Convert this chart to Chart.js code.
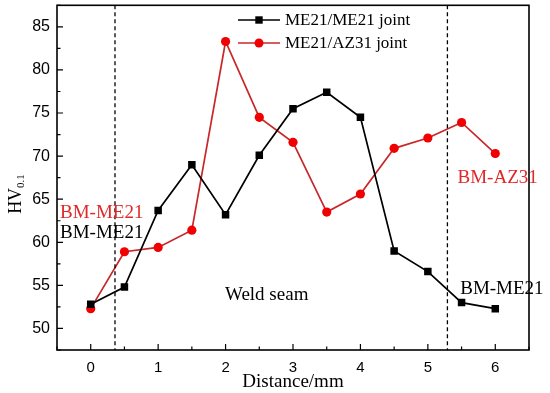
<!DOCTYPE html>
<html>
<head>
<meta charset="utf-8">
<script src="https://cdn.jsdelivr.net/npm/chart.js@4/dist/chart.umd.min.js"></script>
<style>
  html, body { margin: 0; padding: 0; background: #fff; }
  #wrap { width: 550px; height: 393px; }
</style>
</head>
<body>
<div id="wrap"><canvas id="chart_hv"></canvas></div>
<script>
// Data
distance = [0, 0.5, 1, 1.5, 2, 2.5, 3, 3.5, 4, 4.5, 5, 5.5, 6]
hv_me21_me21 = [52.8, 54.8, 63.7, 69.0, 63.2, 70.1, 75.5, 77.4, 74.5, 59.0, 56.6, 53.0, 52.3]
hv_me21_az31 = [52.3, 58.9, 59.4, 61.4, 83.3, 74.5, 71.6, 63.5, 65.6, 70.9, 72.1, 73.9, 70.3]
series_names = ["ME21/ME21 joint", "ME21/AZ31 joint"]
x_ticks = [0, 1, 2, 3, 4, 5, 6]
y_ticks = [50, 55, 60, 65, 70, 75, 80, 85]
zone_bounds = [0.36, 5.29]

var serif = '"Liberation Serif", "Times New Roman", serif'
var sans = '"Liberation Sans", Arial, sans-serif'

function points(ys) {
  return distance.map(function (x, i) { return { x: x, y: ys[i] } })
}

// Frame, inward ticks, dashed zone lines, legend and labels
var decorPlugin = {
  id: 'decor',
  afterDatasetsDraw: function (chart) {
    var ctx = chart.ctx
    var a = chart.chartArea
    var xs = chart.scales.x, ys = chart.scales.y
    ctx.save()

    // dashed zone borders
    ctx.strokeStyle = '#000'
    ctx.lineWidth = 1.3
    ctx.setLineDash([4, 3])
    zone_bounds.forEach(function (v) {
      var px = xs.getPixelForValue(v)
      ctx.beginPath(); ctx.moveTo(px, a.top); ctx.lineTo(px, a.bottom); ctx.stroke()
    })
    ctx.setLineDash([])

    // frame
    ctx.lineWidth = 1.6
    ctx.strokeRect(a.left, a.top, a.right - a.left, a.bottom - a.top)

    // ticks (inside)
    ctx.lineWidth = 1.2
    ctx.beginPath()
    for (var v = -0.5; v <= 6.5; v += 0.5) {
      var px = xs.getPixelForValue(v)
      var len = Number.isInteger(v) ? 6 : 3.5
      ctx.moveTo(px, a.bottom); ctx.lineTo(px, a.bottom - len)
    }
    for (var w = 47.5; w <= 87.5; w += 2.5) {
      var py = ys.getPixelForValue(w)
      var len2 = (w % 5 === 0) ? 6 : 3.5
      ctx.moveTo(a.left, py); ctx.lineTo(a.left + len2, py)
    }
    ctx.stroke()

    // legend
    var lx = 238, lw = 42
    var rows = [
      { y: 20, color: '#000', mark: '#000', shape: 'rect' },
      { y: 43, color: '#c8282a', mark: '#f00000', shape: 'circle' }
    ]
    rows.forEach(function (r, i) {
      ctx.strokeStyle = r.color
      ctx.lineWidth = 1.7
      ctx.beginPath(); ctx.moveTo(lx, r.y); ctx.lineTo(lx + lw, r.y); ctx.stroke()
      ctx.fillStyle = r.mark
      if (r.shape === 'rect') {
        ctx.fillRect(lx + lw / 2 - 3.7, r.y - 3.7, 7.4, 7.4)
      } else {
        ctx.beginPath(); ctx.arc(lx + lw / 2, r.y, 4.5, 0, Math.PI * 2); ctx.fill()
      }
      ctx.fillStyle = '#000'
      ctx.font = '17px ' + serif
      ctx.textBaseline = 'middle'
      ctx.textAlign = 'left'
      ctx.fillText(series_names[i], lx + lw + 5, r.y + 1)
    })

    // region labels
    ctx.font = '19px ' + serif
    ctx.textBaseline = 'alphabetic'
    var notes = [
      { t: 'BM-ME21', x: -0.455, y: 62.83, c: '#e0282a', align: 'left' },
      { t: 'BM-ME21', x: -0.455, y: 60.54, c: '#000', align: 'left' },
      { t: 'Weld seam', x: 2.61, y: 53.27, c: '#000', align: 'center' },
      { t: 'BM-AZ31', x: 5.44, y: 66.9, c: '#e0282a', align: 'left' },
      { t: 'BM-ME21', x: 5.48, y: 53.96, c: '#000', align: 'left' }
    ]
    notes.forEach(function (n) {
      ctx.fillStyle = n.c
      ctx.textAlign = n.align
      ctx.fillText(n.t, xs.getPixelForValue(n.x), ys.getPixelForValue(n.y))
    })

    // axis titles
    ctx.fillStyle = '#000'
    ctx.textAlign = 'center'
    ctx.font = '19px ' + serif
    ctx.fillText('Distance/mm', xs.getPixelForValue(3), 387)

    ctx.translate(15, 194)
    ctx.rotate(-Math.PI / 2)
    ctx.textAlign = 'left'
    ctx.font = '18px ' + serif
    var w1 = ctx.measureText('HV').width
    ctx.font = '11px ' + serif
    var w2 = ctx.measureText('0.1').width
    var start = -(w1 + w2) / 2
    ctx.font = '18px ' + serif
    ctx.fillText('HV', start, 6)
    ctx.font = '11px ' + serif
    ctx.fillText('0.1', start + w1, 9)
    ctx.restore()
  }
}

var config = {
  type: 'line',
  data: {
    datasets: [{
      label: series_names[0],
      data: points(hv_me21_me21),
      borderColor: '#000',
      backgroundColor: '#000',
      borderWidth: 1.7,
      pointStyle: 'rect',
      pointRadius: 5.3,
      pointBorderWidth: 0,
      tension: 0
    }, {
      label: series_names[1],
      data: points(hv_me21_az31),
      borderColor: '#c8282a',
      backgroundColor: '#f00000',
      borderWidth: 1.7,
      pointStyle: 'circle',
      pointRadius: 4.6,
      pointBorderWidth: 0,
      tension: 0
    }]
  },
  options: {
    responsive: false,
    animation: false,
    layout: { padding: { left: 0, top: 3, right: 21, bottom: 0 } },
    plugins: {
      legend: { display: false },
      tooltip: { enabled: false }
    },
    scales: {
      x: {
        type: 'linear',
        min: -0.5,
        max: 6.5,
        grid: { display: false, drawTicks: false },
        border: { display: false },
        afterBuildTicks: function (s) { s.ticks = x_ticks.map(function (v) { return { value: v } }) },
        afterFit: function (s) { s.height = 43; s.paddingLeft = 0; s.paddingRight = 0 },
        ticks: { color: '#000', padding: 9, maxRotation: 0, font: { family: sans, size: 15 } }
      },
      y: {
        type: 'linear',
        min: 47.5,
        max: 87.5,
        grid: { display: false, drawTicks: false },
        border: { display: false },
        afterBuildTicks: function (s) { s.ticks = y_ticks.map(function (v) { return { value: v } }) },
        afterFit: function (s) { s.width = 57; s.paddingTop = 0; s.paddingBottom = 0 },
        ticks: { color: '#000', padding: 7, font: { family: sans, size: 16 } }
      }
    }
  },
  plugins: [decorPlugin]
}

var canvas = document.getElementById('chart_hv')
canvas.width = 550
canvas.height = 393
var ch_hv = new Chart(canvas, config)
</script>
</body>
</html>
